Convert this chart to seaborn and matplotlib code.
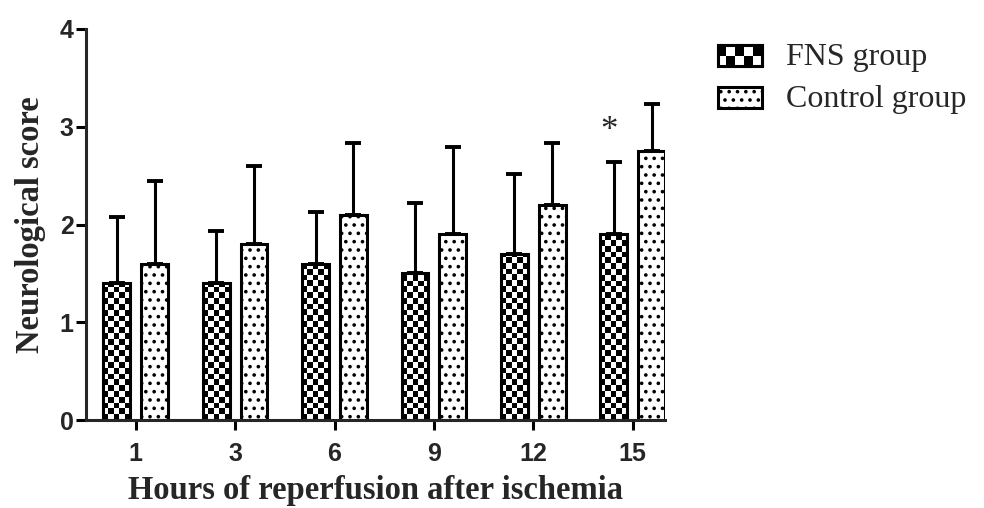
import numpy as np
import pandas as pd
import matplotlib
matplotlib.use("Agg")
import matplotlib.pyplot as plt
import seaborn as sns
from matplotlib.patches import Rectangle
from matplotlib.legend_handler import HandlerBase

# values (mean and upper SD)
hours = ["1", "3", "6", "9", "12", "15"]
groups = ["FNS group", "Control group"]
fns_mean = [1.4, 1.4, 1.6, 1.5, 1.7, 1.9]
fns_sd = [0.68, 0.53, 0.53, 0.72, 0.82, 0.74]
ctrl_mean = [1.6, 1.8, 2.1, 1.9, 2.2, 2.75]
ctrl_sd = [0.85, 0.80, 0.73, 0.89, 0.63, 0.48]
star_hour = "15"

df = pd.DataFrame({
    "hours": hours * 2,
    "group": [groups[0]] * len(hours) + [groups[1]] * len(hours),
    "score": fns_mean + ctrl_mean,
})

sns.set_style("ticks")
plt.rcParams["font.family"] = ["Liberation Sans", "DejaVu Sans"]
plt.rcParams["hatch.linewidth"] = 1.4
serif = ["Liberation Serif", "DejaVu Serif"]

fig = plt.figure(figsize=(9.84, 5.08), dpi=100)
ax = fig.add_axes([0.0874, 0.173, 0.588, 0.770])

sns.barplot(data=df, x="hours", y="score", hue="group", order=hours,
            hue_order=groups, palette=["white", "white"], edgecolor="black",
            linewidth=2.2, width=0.76, gap=0.29, errorbar=None,
            legend=False, ax=ax)

ax.set_xlim(-0.5, 5.32)
ax.set_ylim(0, 4)
ax.set_yticks([0, 1, 2, 3, 4])

# checkerboard fill for the FNS bars
cell = 5.8  # pixels
fig.canvas.draw()
for bar in ax.containers[0]:
    x0, w, h = bar.get_x(), bar.get_width(), bar.get_height()
    p0 = ax.transData.transform((x0, 0))
    p1 = ax.transData.transform((x0 + w, h))
    nx = max(1, int(round((p1[0] - p0[0]) / cell)))
    ny = int(np.ceil((p1[1] - p0[1]) / cell)) + 1
    cy = cell * h / (p1[1] - p0[1])
    grid = np.add.outer(np.arange(ny), np.arange(nx)) % 2
    im = ax.imshow(grid, cmap="gray", extent=(x0, x0 + w, 0, ny * cy),
                   origin="lower", aspect="auto", interpolation="nearest",
                   zorder=0.9)
    im.set_clip_path(bar)
    bar.set_facecolor("none")

for bar in ax.containers[1]:
    bar.set_hatch("..")

ax.set_xlim(-0.5, 5.32)
ax.set_ylim(0, 4)

# upper error bars
for cont, sd in zip(ax.containers, [fns_sd, ctrl_sd]):
    xs = [b.get_x() + b.get_width() / 2 for b in cont]
    ys = [b.get_height() for b in cont]
    ax.errorbar(xs, ys, yerr=[np.zeros(len(sd)), sd], fmt="none",
                ecolor="black", elinewidth=2.2, capsize=5.8, capthick=2.8,
                zorder=0.8)

# significance mark
i = hours.index(star_hour)
sb = ax.containers[0][i]
ax.text(sb.get_x() + sb.get_width() / 2 - 0.05, fns_mean[i] + fns_sd[i] + 0.31,
        "*", ha="center", va="center", fontsize=25, family=serif)

sns.despine(ax=ax)
for s in ["left", "bottom"]:
    ax.spines[s].set_linewidth(2.2)
ax.tick_params(axis="both", width=2.2, length=7, labelsize=18, color="black")
ax.tick_params(axis="x", pad=9)
ax.tick_params(axis="y", pad=2)
for lab in ax.get_xticklabels() + ax.get_yticklabels():
    lab.set_fontweight("bold")

ax.set_xlabel("Hours of reperfusion after ischemia", family=serif,
              fontweight="bold", fontsize=23.5, labelpad=6)
ax.set_ylabel("Neurological score", family=serif, fontweight="bold",
              fontsize=23.5, labelpad=10)


class CheckerHandler(HandlerBase):
    def create_artists(self, legend, orig, xd, yd, width, height, fontsize, trans):
        arts = [Rectangle((xd, yd), width, height, facecolor="black",
                          edgecolor="black", linewidth=2.2, transform=trans)]
        nx, ny = 5, 2
        cw, ch = width / nx, height / ny
        for r in range(ny):
            for c in range(nx):
                if (r + c) % 2 == 0:
                    arts.append(Rectangle((xd + c * cw, yd + r * ch), cw, ch,
                                          facecolor="white", edgecolor="none",
                                          transform=trans))
        arts.append(Rectangle((xd, yd), width, height, fill=False,
                              edgecolor="black", linewidth=2.2, transform=trans))
        return arts


class DotHandler(HandlerBase):
    def create_artists(self, legend, orig, xd, yd, width, height, fontsize, trans):
        return [Rectangle((xd, yd), width, height, facecolor="white",
                          edgecolor="black", linewidth=2.2, hatch="..",
                          transform=trans)]


h_fns = Rectangle((0, 0), 1, 1)
h_ctrl = Rectangle((0, 0), 1, 1)
fig.legend([h_fns, h_ctrl], groups, loc="upper left",
           bbox_to_anchor=(0.70, 0.972), frameon=False,
           handler_map={h_fns: CheckerHandler(), h_ctrl: DotHandler()},
           prop={"family": serif, "size": 23}, handlelength=1.4,
           handleheight=0.62, handletextpad=0.75, labelspacing=0.4)

fig.savefig("out.png", dpi=100)
